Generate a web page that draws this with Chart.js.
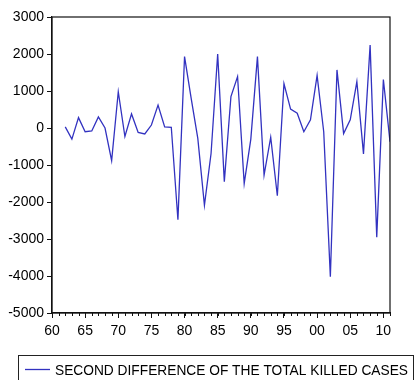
<!DOCTYPE html>
<html>
<head>
<meta charset="utf-8">
<script src="https://cdn.jsdelivr.net/npm/chart.js@4/dist/chart.umd.min.js"></script>
<style>
  html, body { margin: 0; padding: 0; background: #fff; }
  #wrap { width: 418px; height: 380px; }
</style>
</head>
<body>
<div id="wrap"><canvas id="c" width="418" height="380"></canvas></div>
<script>
// Annual observations (second difference starts two years into the sample)
const years = [
  1962, 1963, 1964, 1965, 1966, 1967, 1968, 1969, 1970, 1971,
  1972, 1973, 1974, 1975, 1976, 1977, 1978, 1979, 1980, 1981,
  1982, 1983, 1984, 1985, 1986, 1987, 1988, 1989, 1990, 1991,
  1992, 1993, 1994, 1995, 1996, 1997, 1998, 1999, 2000, 2001,
  2002, 2003, 2004, 2005, 2006, 2007, 2008, 2009, 2010, 2011
];
const secondDiff = [
    30, -300,  280, -100,  -80,  300,    0, -880,  980, -230,
   380, -120, -160,   80,  620,   30,   20, -2480, 1930,  800,
  -280, -2090, -690, 2000, -1450,  850, 1390, -1500, -300, 1930,
  -1270, -250, -1830, 1200,  510,  400, -100,  220, 1420, -100,
  -4020, 1570, -150,  220, 1250, -700, 2240, -2950, 1310, -370
];
const seriesLabel = 'SECOND DIFFERENCE OF THE TOTAL KILLED CASES';
const yTicks = [-5000, -4000, -3000, -2000, -1000, 0, 1000, 2000, 3000];
const xMajorTicks = [1960, 1965, 1970, 1975, 1980, 1985, 1990, 1995, 2000, 2005, 2010];
const xRange = [1960, 2011];

const FONT = '"Liberation Sans", Arial, sans-serif';

// Frame, minor year ticks and the boxed legend underneath the plot
const decorations = {
  id: 'decorations',
  afterDraw(chart) {
    const { ctx, chartArea: a, scales } = chart;
    ctx.save();
    ctx.strokeStyle = '#111';
    ctx.lineWidth = 1.2;
    ctx.strokeRect(a.left, a.top, a.right - a.left, a.bottom - a.top);

    // minor ticks, one per year
    ctx.lineWidth = 1;
    ctx.beginPath();
    for (let yr = xRange[0]; yr <= xRange[1]; yr++) {
      const px = Math.round(scales.x.getPixelForValue(yr)) + 0.5;
      ctx.moveTo(px, a.bottom);
      ctx.lineTo(px, a.bottom + 3);
    }
    ctx.stroke();

    // legend
    ctx.strokeStyle = '#222';
    ctx.lineWidth = 1;
    ctx.strokeRect(18.5, 355.5, 395, 40);
    ctx.strokeStyle = chart.data.datasets[0].borderColor;
    ctx.lineWidth = 1.3;
    ctx.beginPath();
    ctx.moveTo(25, 369.5);
    ctx.lineTo(50, 369.5);
    ctx.stroke();
    ctx.fillStyle = '#000';
    ctx.font = '15.5px ' + FONT;
    ctx.textBaseline = 'alphabetic';
    ctx.textAlign = 'left';
    ctx.fillText(seriesLabel, 55, 375, 353);
    ctx.restore();
  }
};

new Chart(document.getElementById('c'), {
  type: 'line',
  data: {
    datasets: [{
      label: seriesLabel,
      data: years.map((yr, i) => ({ x: yr, y: secondDiff[i] })),
      borderColor: '#3232c0',
      borderWidth: 1.3,
      pointRadius: 0,
      tension: 0,
      fill: false
    }]
  },
  options: {
    responsive: false,
    devicePixelRatio: 1,
    animation: false,
    layout: { padding: { left: 0, right: 28, top: 17, bottom: 45 } },
    plugins: {
      legend: { display: false },
      tooltip: { enabled: false }
    },
    scales: {
      x: {
        type: 'linear',
        min: xRange[0],
        max: xRange[1],
        afterBuildTicks(scale) {
          scale.ticks = xMajorTicks.map(v => ({ value: v }));
        },
        afterFit(scale) { scale.height = 22; },
        grid: { display: true, drawOnChartArea: false, drawTicks: true, tickLength: 5, color: '#111' },
        border: { display: true, color: '#111', width: 1.2 },
        ticks: {
          autoSkip: false,
          maxRotation: 0,
          padding: 5,
          color: '#000',
          font: { family: FONT, size: 14 },
          callback: v => String(v % 100).padStart(2, '0')
        }
      },
      y: {
        type: 'linear',
        min: yTicks[0],
        max: yTicks[yTicks.length - 1],
        afterBuildTicks(scale) {
          scale.ticks = yTicks.map(v => ({ value: v }));
        },
        afterFit(scale) { scale.width = 52; },
        grid: { display: true, drawOnChartArea: false, drawTicks: true, tickLength: 5, color: '#111' },
        border: { display: true, color: '#111', width: 1.2 },
        ticks: {
          padding: 3,
          color: '#000',
          font: { family: FONT, size: 14 },
          callback: v => String(v)
        }
      }
    }
  },
  plugins: [decorations]
});
</script>
</body>
</html>
